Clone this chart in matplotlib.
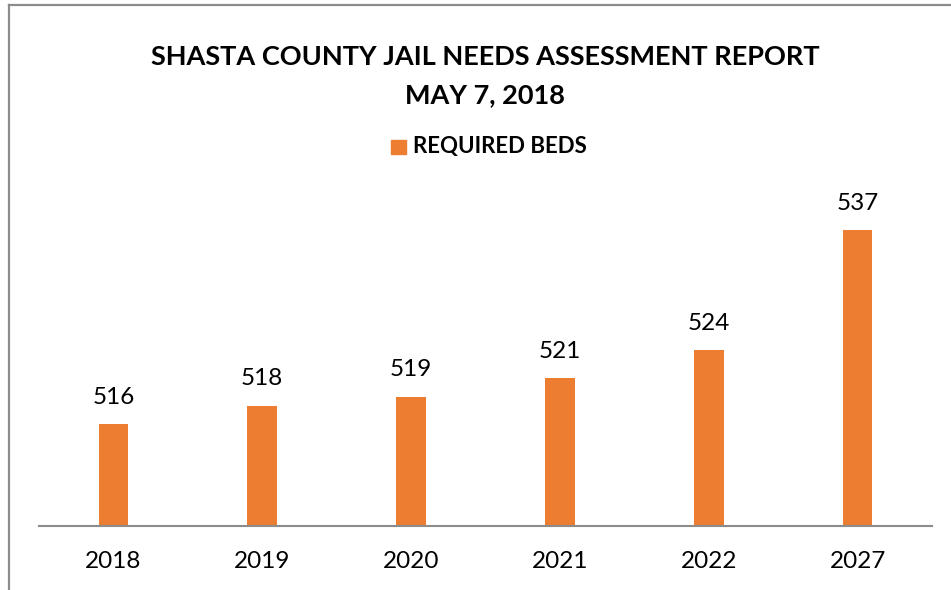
import matplotlib
matplotlib.use("Agg")
import matplotlib.pyplot as plt
from matplotlib.lines import Line2D
from matplotlib.patches import Rectangle

plt.rcParams['font.family'] = ['Lato', 'DejaVu Sans']

years = ["2018", "2019", "2020", "2021", "2022", "2027"]
beds = [516, 518, 519, 521, 524, 537]
title = "SHASTA COUNTY JAIL NEEDS ASSESSMENT REPORT\nMAY 7, 2018"
series_name = "REQUIRED BEDS"

W, H = 951, 590
fig = plt.figure(figsize=(W / 100, H / 100), dpi=100)
fig.patch.set_facecolor("white")

# outer chart border (top and left visible)
fig.add_artist(Line2D([9 / W, 9 / W], [0, 1 - 5 / H], transform=fig.transFigure, color="#8c8c8c", lw=1.6))
fig.add_artist(Line2D([9 / W, 1], [1 - 5 / H, 1 - 5 / H], transform=fig.transFigure, color="#8c8c8c", lw=1.6))

ax = fig.add_axes([39 / W, (H - 526) / H, (932 - 39) / W, (526 - 202.7) / H])
x = list(range(len(years)))
bars = ax.bar(x, beds, width=0.2, color="#ED7D31", zorder=2)
ax.set_ylim(505, 540)
ax.set_xlim(-0.5, len(years) - 0.5)

for s in ["top", "right", "left"]:
    ax.spines[s].set_visible(False)
ax.spines["bottom"].set_color("#8c8c8c")
ax.spines["bottom"].set_linewidth(1.5)
ax.set_yticks([])
ax.set_xticks(x)
ax.set_xticklabels(years, fontsize=17.5, color="black")
ax.tick_params(axis="x", length=0, pad=18)

for xi, v in zip(x, beds):
    ax.annotate(str(v), (xi, v), xytext=(0, 12), textcoords="offset points",
                ha="center", va="bottom", fontsize=17.5, color="black")

fig.text(485 / W, 1 - 76 / H, title, ha="center", va="center", fontsize=19.5,
         fontweight="bold", linespacing=1.7, color="black")

# legend
fig.add_artist(Rectangle((391 / W, 1 - 154 / H), 15 / W, 14 / H, transform=fig.transFigure,
                         color="#ED7D31"))
fig.text(413 / W, 1 - 147 / H, series_name, ha="left", va="center", fontsize=16,
         fontweight="bold", color="black")

fig.savefig("out.png", dpi=100)
